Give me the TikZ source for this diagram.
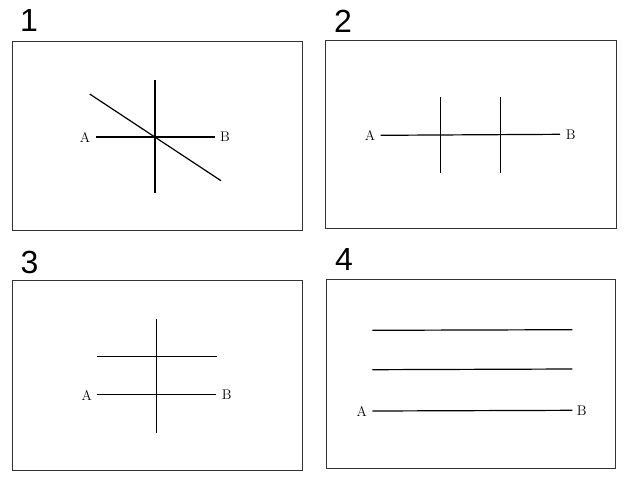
\documentclass[tikz,border=0pt]{standalone}
\usepackage{fontspec}
\newfontfamily\digitfont{Liberation Sans}
\begin{document}
\begin{tikzpicture}[x=1pt,y=-1pt,
  panel/.style={draw=black!80,line width=0.8pt},
  stroke/.style={draw=black,line width=1.2pt},
  digit/.style={font=\digitfont\fontsize{32}{34}\selectfont,inner sep=0pt},
  pt/.style={font=\fontsize{14}{16}\selectfont,inner sep=0pt}]
\useasboundingbox (0,0) rectangle (640,480);
% ---------- panel 1
\node[digit] (d1) at (29,20) {1};
\draw[panel] (12,41) rectangle (302,230);
\coordinate (p1v1) at (155,80);   \coordinate (p1v2) at (155,193);
\coordinate (p1a) at (96,137);    \coordinate (p1b) at (215,137);
\coordinate (p1d1) at (89.7,94);  \coordinate (p1d2) at (221,180.7);
\draw[stroke] (p1v1) -- (p1v2);
\draw[stroke] (p1a) -- (p1b);
\draw[stroke] (p1d1) -- (p1d2);
\node[pt] (A1) at (85,137.5) {A};
\node[pt] (B1) at (225,137) {B};
% ---------- panel 2
\node[digit] (d2) at (343,21) {2};
\draw[panel] (325.7,40) rectangle (616,228.7);
\coordinate (p2a) at (380.7,135.3); \coordinate (p2b) at (560,134.3);
\coordinate (p2v1) at (440.7,97.3); \coordinate (p2v2) at (440.7,173.3);
\coordinate (p2w1) at (500.7,97);   \coordinate (p2w2) at (500.7,172.7);
\draw[stroke] (p2a) -- (p2b);
\draw[stroke] (p2v1) -- (p2v2);
\draw[stroke] (p2w1) -- (p2w2);
\node[pt] (A2) at (370,135.5) {A};
\node[pt] (B2) at (570.7,134.5) {B};
% ---------- panel 3
\node[digit] (d3) at (29.5,262) {3};
\draw[panel] (12,280.7) rectangle (302.3,470);
\coordinate (p3v1) at (156.7,319.3); \coordinate (p3v2) at (156.7,432.7);
\coordinate (p3u1) at (96.7,356.7);  \coordinate (p3u2) at (217.3,356.7);
\coordinate (p3a) at (96.7,394.3);   \coordinate (p3b) at (216,394.3);
\draw[stroke] (p3v1) -- (p3v2);
\draw[stroke] (p3u1) -- (p3u2);
\draw[stroke] (p3a) -- (p3b);
\node[pt] (A3) at (86.7,395) {A};
\node[pt] (B3) at (226.7,394.5) {B};
% ---------- panel 4
\node[digit] (d4) at (344,259) {4};
\draw[panel] (326.7,279) rectangle (615.7,468.7);
\coordinate (p4l1) at (372.3,330.3);   \coordinate (p4r1) at (572.3,329.7);
\coordinate (p4l2) at (372.3,369.7);   \coordinate (p4r2) at (572.3,369);
\coordinate (p4a) at (372.3,411);      \coordinate (p4b) at (572.3,410.3);
\draw[stroke] (p4l1) -- (p4r1);
\draw[stroke] (p4l2) -- (p4r2);
\draw[stroke] (p4a) -- (p4b);
\node[pt] (A4) at (361.7,411.5) {A};
\node[pt] (B4) at (581.7,410.5) {B};
\end{tikzpicture}
\end{document}
